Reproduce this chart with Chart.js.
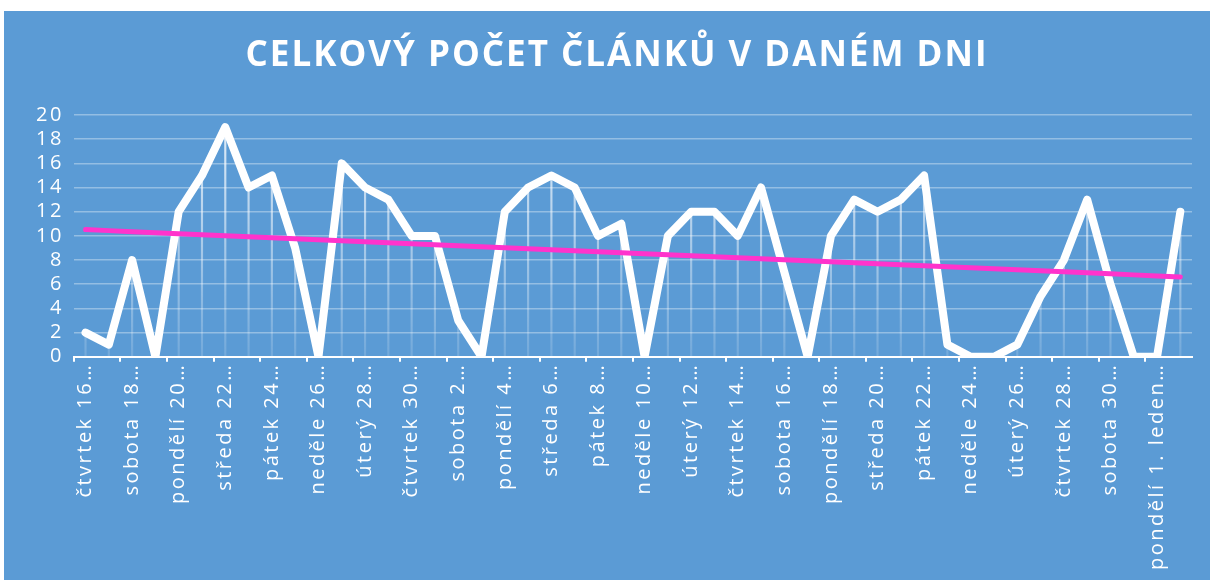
<!DOCTYPE html>
<html>
<head>
<meta charset="utf-8">
<script src="https://cdn.jsdelivr.net/npm/chart.js@4.4.1/dist/chart.umd.min.js"></script>
<style>
  html, body { margin: 0; padding: 0; background: #fff; }
  #box { position: absolute; left: 4px; top: 11px; width: 1206px; height: 569px; background: #5b9bd5; }
</style>
</head>
<body>
<div id="box"><canvas id="chart-articles"></canvas></div>
<script>
// dny (kategorie)
var days = [
  "čtvrtek 16. listopad 2017", "pátek 17. listopad 2017", "sobota 18. listopad 2017", "neděle 19. listopad 2017",
  "pondělí 20. listopad 2017", "úterý 21. listopad 2017", "středa 22. listopad 2017", "čtvrtek 23. listopad 2017",
  "pátek 24. listopad 2017", "sobota 25. listopad 2017", "neděle 26. listopad 2017", "pondělí 27. listopad 2017",
  "úterý 28. listopad 2017", "středa 29. listopad 2017", "čtvrtek 30. listopad 2017", "pátek 1. prosinec 2017",
  "sobota 2. prosinec 2017", "neděle 3. prosinec 2017", "pondělí 4. prosinec 2017", "úterý 5. prosinec 2017",
  "středa 6. prosinec 2017", "čtvrtek 7. prosinec 2017", "pátek 8. prosinec 2017", "sobota 9. prosinec 2017",
  "neděle 10. prosinec 2017", "pondělí 11. prosinec 2017", "úterý 12. prosinec 2017", "středa 13. prosinec 2017",
  "čtvrtek 14. prosinec 2017", "pátek 15. prosinec 2017", "sobota 16. prosinec 2017", "neděle 17. prosinec 2017",
  "pondělí 18. prosinec 2017", "úterý 19. prosinec 2017", "středa 20. prosinec 2017", "čtvrtek 21. prosinec 2017",
  "pátek 22. prosinec 2017", "sobota 23. prosinec 2017", "neděle 24. prosinec 2017", "pondělí 25. prosinec 2017",
  "úterý 26. prosinec 2017", "středa 27. prosinec 2017", "čtvrtek 28. prosinec 2017", "pátek 29. prosinec 2017",
  "sobota 30. prosinec 2017", "neděle 31. prosinec 2017", "pondělí 1. leden 2018", "úterý 2. leden 2018"
];
// počet článků za den
var articles = [
  2, 1, 8, 0, 12, 15, 19, 14, 15, 9, 0, 16, 14, 13, 10, 10,
  3, 0, 12, 14, 15, 14, 10, 11, 0, 10, 12, 12, 10, 14, 7, 0,
  10, 13, 12, 13, 15, 1, 0, 0, 1, 5, 8, 13, 6, 0, 0, 12
];
var yTicks = [0, 2, 4, 6, 8, 10, 12, 14, 16, 18, 20];

// lineární trend (nejmenší čtverce), jako v Excelu
var n = articles.length, sx = 0, sy = 0, sxy = 0, sxx = 0;
articles.forEach(function (v, i) { sx += i; sy += v; sxy += i * v; sxx += i * i; });
var slope = (n * sxy - sx * sy) / (n * sxx - sx * sx);
var icpt = (sy - slope * sx) / n;
var trend = articles.map(function (v, i) { return icpt + slope * i; });

// Excel má prostrkané popisky, nadpis méně
var spacing = {
  id: 'spacing',
  beforeUpdate: function (chart) { chart.ctx.letterSpacing = '2.5px'; },
  beforeDraw: function (chart) {
    chart.ctx.letterSpacing = '2.5px';
    var t = chart.titleBlock;
    if (t && !t._ls) {
      var orig = t.draw.bind(t);
      t.draw = function (a) {
        var c = chart.ctx, old = c.letterSpacing;
        c.save();
        c.letterSpacing = '2px';
        c.translate(8, 0);
        orig(a);
        c.restore();
        c.letterSpacing = old;
      };
      t._ls = true;
    }
  }
};

var dropColor = function (c) {
  var a = c.chart.chartArea;
  if (!a) return 'rgba(255,255,255,0.6)';
  var g = c.chart.ctx.createLinearGradient(0, a.top, 0, a.bottom);
  g.addColorStop(0, 'rgba(255,255,255,0.85)');
  g.addColorStop(1, 'rgba(255,255,255,0.15)');
  return g;
};

var chart = new Chart(document.getElementById('chart-articles'), {
  type: 'line',
  plugins: [spacing],
  data: {
    labels: days,
    datasets: [{
      label: 'Lineární (Celkem)',
      data: trend,
      borderColor: '#ff33cc',
      borderWidth: 5,
      pointRadius: 0,
      borderCapStyle: 'round',
      order: 0
    }, {
      label: 'Celkem',
      data: articles,
      borderColor: '#ffffff',
      borderWidth: 8,
      borderJoinStyle: 'round',
      borderCapStyle: 'round',
      pointRadius: 0,
      tension: 0,
      order: 1
    }, {
      type: 'bar',
      label: 'drop',
      data: articles,
      backgroundColor: dropColor,
      barThickness: 1.5,
      order: 2
    }]
  },
  options: {
    responsive: true,
    maintainAspectRatio: false,
    animation: false,
    layout: { padding: { left: 22, right: 18, top: 0, bottom: 9 } },
    plugins: {
      legend: { display: false },
      tooltip: { enabled: false },
      title: {
        display: true,
        text: 'CELKOVÝ POČET ČLÁNKŮ V DANÉM DNI',
        color: '#ffffff',
        font: { family: 'Open Sans', size: 35, weight: 'bold' },
        padding: { top: 24, bottom: 38 }
      }
    },
    scales: {
      x: {
        offset: true,
        grid: {
          offset: true,
          drawOnChartArea: false,
          tickLength: 5,
          lineWidth: 2,
          color: function (c) { return c.index % 2 === 0 ? '#ffffff' : 'rgba(0,0,0,0)'; }
        },
        border: { color: '#ffffff', width: 2 },
        ticks: {
          autoSkip: false,
          minRotation: 90,
          maxRotation: 90,
          padding: 1,
          color: '#ffffff',
          font: { family: 'Open Sans', size: 20 },
          callback: function (v, i) {
            if (i % 2) return '';
            var w = days[i].split(' ');
            if (i === n - 2) return w.slice(0, 3).join(' ') + '…';
            return w[0] + ' ' + w[1].replace('.', '') + '…';
          }
        }
      },
      y: {
        min: 0,
        max: 20,
        afterBuildTicks: function (s) { s.ticks = yTicks.map(function (v) { return { value: v }; }); },
        grid: { color: 'rgba(255,255,255,0.35)', lineWidth: 1.5, drawTicks: false },
        border: { display: false },
        ticks: {
          autoSkip: false,
          padding: 10,
          color: '#ffffff',
          font: { family: 'Open Sans', size: 20 }
        }
      }
    }
  }
});
</script>
</body>
</html>
